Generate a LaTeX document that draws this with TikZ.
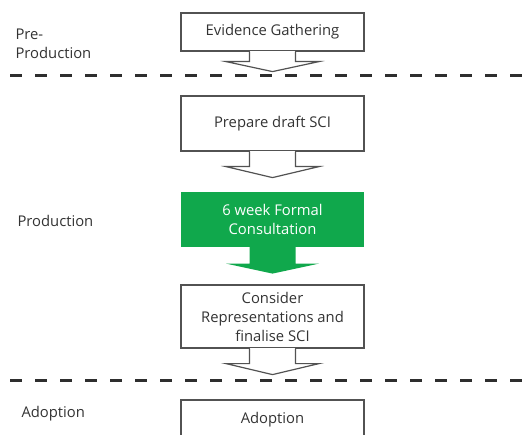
\documentclass[tikz,border=0pt]{standalone}
\usepackage{fontspec}
\setmainfont{Open Sans}
\usepackage{xcolor}
\usepackage{tikz}
\usetikzlibrary{calc}
\definecolor{consgreen}{RGB}{16,168,76}
\definecolor{inkgray}{RGB}{51,51,51}
% box with a notched arrow under it
\newcommand{\notch}[3]{%
  \fill[white] ($(#1.south)+(-22.4,-1)$) rectangle ($(#1.south)+(22.4,3)$);
  \draw[boxline] ($(#1.south)+(-23,0)$) -- ++(0,#2) -- ++(-23.5,0)
    -- ($(#1.south)+(0,#2+#3)$) -- ($(#1.south)+(46.5,#2)$) -- ++(-23.5,0) -- ++(0,-#2);
}

\begin{document}
\begin{tikzpicture}[x=1pt,y=-1pt]
        \tikzset{every node/.style={font=\fontsize{14.8}{19}\selectfont, text=inkgray, align=center},
          stage/.style={draw=inkgray!85, line width=1.2pt, minimum width=183pt, inner sep=0pt},
          boxline/.style={draw=inkgray!85, line width=1.2pt},
          phase/.style={align=left, anchor=west},
          dashline/.style={line width=3pt, dash pattern=on 12pt off 13pt, inkgray!90!black}}
        \useasboundingbox (0,0) rectangle (529,435);
        \node[stage, minimum height=38pt] (evid) at (272.5,32) {Evidence Gathering};
        \node[stage, minimum height=55pt] (draft) at (272.5,123.5) {Prepare draft SCI};
        \node[stage, fill=consgreen, draw=none, text=white, minimum height=55pt] (consult) at (272.5,219.5) {6 week Formal\\Consultation};
        \node[stage, minimum height=63pt] (reps) at (272.5,316.5) {Consider\\Representations and\\finalise SCI};
        \node[stage, minimum height=40pt] (adopt) at (272.5,420) {Adoption};
        \node[phase] (pre) at (12,44) {Pre-\\Production};
        \node[phase] (prod) at (14,221) {Production};
        \node[phase] (adop) at (18,414) {Adoption};
        \notch{evid}{10}{10}
        \notch{draft}{15}{11}
        \notch{reps}{15}{11}
        \fill[consgreen] ($(consult.south)+(-23,-0.5)$) -- ++(0,16.5) -- ++(-23.5,0)
          -- ($(consult.south)+(0,26)$) -- ($(consult.south)+(46.5,16)$) -- ++(-23.5,0) -- ++(0,-16.5) -- cycle;
        \draw[dashline] (10,76) -- (535,76);
        \draw[dashline] (10,380) -- (535,380);
    \end{tikzpicture}
\end{document}
